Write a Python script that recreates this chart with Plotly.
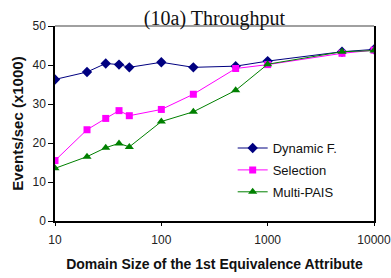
import plotly.graph_objects as go

domain_sizes = [10, 20, 30, 40, 50, 100, 200, 500, 1000, 5000, 10000]
dynamic_f = [36.3, 38.2, 40.4, 40.1, 39.4, 40.7, 39.4, 39.7, 41.0, 43.4, 44.0]
selection = [15.5, 23.4, 26.3, 28.3, 27.0, 28.6, 32.5, 39.1, 40.1, 43.0, 43.8]
multi_pais = [13.5, 16.5, 18.8, 19.9, 19.0, 25.5, 28.0, 33.5, 40.2, 43.4, 43.7]

series = [
    ("Dynamic F.", dynamic_f, "#000080", "diamond", 8),
    ("Selection", selection, "#FF00FF", "square", 7),
    ("Multi-PAIS", multi_pais, "#008000", "triangle-up", 8),
]

fig = go.Figure()
for name, vals, color, sym, size in series:
    fig.add_trace(go.Scatter(
        x=domain_sizes, y=vals, name=name, mode="lines+markers",
        legendgroup=name,
        line=dict(color=color, width=1),
        marker=dict(symbol=sym, size=size, color=color),
    ))

fig.update_layout(
    width=391, height=278,
    margin=dict(l=55, r=17, t=26, b=57),
    paper_bgcolor="white", plot_bgcolor="white",
    font=dict(family="Liberation Sans, Arial", size=12, color="#222222"),
    title=dict(text="(10a) Throughput", x=0.5, xref="paper", y=1, yref="paper",
               yanchor="bottom", pad=dict(b=1),
               font=dict(family="Liberation Serif, Times New Roman", size=20, color="#111111")),
    xaxis=dict(type="log", range=[1, 4], showgrid=False, zeroline=False,
               tickvals=[10, 100, 1000, 10000], ticktext=["10", "100", "1000", "10000"],
               ticks="outside", ticklen=3, tickcolor="black", ticklabelstandoff=4,
               ticklabeloverflow="allow",
               showline=True, linecolor="black", linewidth=1.5, automargin=False,
               title=dict(text="<b>Domain Size of the 1st Equivalence Attribute</b>",
                          standoff=13, font=dict(size=14, color="#111111")),
               tickfont=dict(size=12)),
    yaxis=dict(range=[0, 50], dtick=10, showgrid=False, zeroline=False,
               ticks="outside", ticklen=5, tickcolor="black",
               showline=True, linecolor="black", linewidth=1.5, mirror=True, automargin=False,
               title=dict(text="<b>Events/sec (x1000)</b>", standoff=5,
                          font=dict(size=15, color="#111111")),
               tickfont=dict(size=12)),
    legend=dict(x=0.557, y=0.451, xanchor="left", yanchor="top",
                traceorder="grouped", tracegroupgap=2,
                bgcolor="rgba(0,0,0,0)", font=dict(size=13, color="#111111")),
    shapes=[dict(type="line", xref="paper", yref="paper", x0=0, x1=1, y0=1, y1=1,
                 line=dict(color="#808080", width=1.5))],
)

fig.write_html("out.html", config={"displayModeBar": False},
               post_script="document.body.style.margin='0';")
